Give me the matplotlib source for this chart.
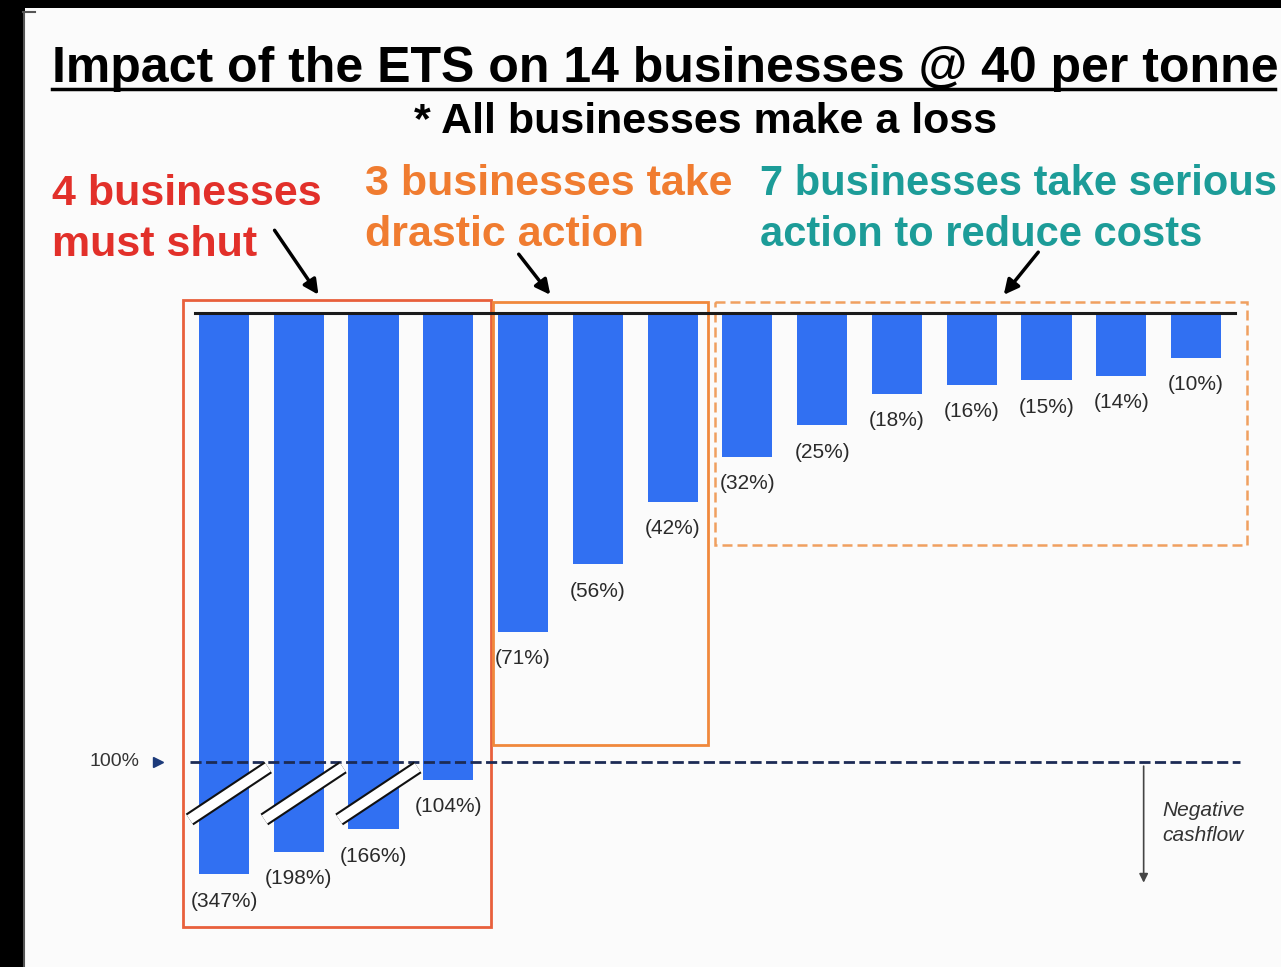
import numpy as np
import matplotlib
matplotlib.use('Agg')
import matplotlib.pyplot as plt
from matplotlib.patches import Rectangle
from matplotlib.lines import Line2D

# data: loss as % of cashflow for each business
losses = [347, 198, 166, 104, 71, 56, 42, 32, 25, 18, 16, 15, 14, 10]
# depth the bar is actually drawn to (first three are cut with a break mark)
drawn = [125, 120, 115, 104, 71, 56, 42, 32, 25, 18, 16, 15, 14, 10]
labels = ['(%d%%)' % v for v in losses]

W, H = 1281, 967
fig = plt.figure(figsize=(W / 100, H / 100), dpi=100, facecolor='black')

def fx(px):
    return px / W

def fy(py):
    return 1 - py / H

# white page with thin frame line on the left
fig.patches.append(Rectangle((fx(25), 0), 1, fy(8), transform=fig.transFigure,
                             facecolor='#fbfbfb', edgecolor='none', zorder=-5))
fig.lines.append(Line2D([fx(23.5), fx(23.5)], [0, fy(12)], transform=fig.transFigure,
                        color='#555555', lw=1.5, zorder=-4))
fig.lines.append(Line2D([fx(23), fx(35)], [fy(12), fy(12)], transform=fig.transFigure,
                        color='#555555', lw=1.5, zorder=-4))

# axes covers the whole figure; bar i sits at x=i, depth grows downward
ax = fig.add_axes([0, 0, 1, 1])
ax.patch.set_alpha(0)
ax.set_xlim(-2.996, 14.137)
ax.set_ylim(145.66, -69.71)
ax.axis('off')

x = np.arange(len(losses))
ax.bar(x, drawn, width=0.67, color='#3170f2', zorder=2)

# baseline and 100% line
ax.plot([-0.39, 13.52], [0, 0], color='#1a1a1a', lw=2.2, zorder=3)
ax.plot([-0.45, 13.59], [100, 100], color='#1c2b55', lw=2, ls=(0, (4, 1.6)), zorder=4)
ax.text(-1.13, 100, '100%', ha='right', va='center', fontsize=14,
        family='Liberation Sans', color='#333333')
ax.plot([-0.88], [100], marker='>', color='#1c3a7a', ms=7, zorder=4)

# break marks on the truncated bars
for i in range(len(losses)):
    if drawn[i] < losses[i]:
        ax.plot([i - 0.46, i + 0.59], [112.8, 101.2], color='#111111',
                lw=10, solid_capstyle='butt', zorder=5)
        ax.plot([i - 0.46, i + 0.59], [112.8, 101.2], color='white',
                lw=7, solid_capstyle='butt', zorder=6)

# value labels
for i in range(len(losses)):
    ax.text(x[i], drawn[i] + 6, labels[i], ha='center', va='center', fontsize=15,
            family='Liberation Sans', color='#2a2a2a', zorder=6)

# group boxes
ax.add_patch(Rectangle((-0.548, -2.9), 4.12, 139.6, fill=False, edgecolor='#e8603c', lw=2, zorder=1))
ax.add_patch(Rectangle((3.598, -2.45), 2.875, 98.65, fill=False, edgecolor='#f0883c', lw=2, zorder=1))
ax.add_patch(Rectangle((6.567, -2.45), 7.113, 54.15, fill=False, edgecolor='#f0a060', lw=1.8,
                       ls=(0, (4, 2)), zorder=1))

# negative cashflow arrow
ax.annotate('', xy=(12.3, 127.5), xytext=(12.3, 100.3),
            arrowprops=dict(arrowstyle='-|>', color='#444444', lw=1.2, mutation_scale=13))
ax.text(12.55, 113.6, 'Negative\ncashflow', ha='left', va='center', fontsize=15, style='italic',
        family='Liberation Sans', color='#333333', linespacing=1.4)

# title block
fig.text(fx(52), fy(82), 'Impact of the ETS on 14 businesses @ 40 per tonne', fontsize=36,
         fontweight='bold', family='Liberation Sans', color='black', va='baseline')
fig.lines.append(Line2D([fx(52), fx(1275)], [fy(89), fy(89)], transform=fig.transFigure,
                        color='black', lw=2.5))
fig.text(fx(706), fy(133), '* All businesses make a loss', fontsize=31, fontweight='bold',
         family='Liberation Sans', color='black', ha='center', va='baseline')

heads = [('4 businesses', 'must shut', '#e2302a', 52, 205, 31),
         ('3 businesses take', 'drastic action', '#f07c30', 365, 195, 31),
         ('7 businesses take serious', 'action to reduce costs', '#1c9c98', 760, 195, 30)]
for l1, l2, col, px, py, fs in heads:
    fig.text(fx(px), fy(py), l1, fontsize=fs, fontweight='bold', family='Liberation Sans',
             color=col, va='baseline')
    fig.text(fx(px), fy(py + 51), l2, fontsize=fs, fontweight='bold', family='Liberation Sans',
             color=col, va='baseline')

# pointer arrows from the headings to the boxes
for (x0, y0), (x1, y1) in [((273, 228), (320, 297)), ((517, 252), (552, 297)),
                           ((1040, 250), (1002, 297))]:
    ax.annotate('', xy=(fx(x1), fy(y1)), xytext=(fx(x0), fy(y0)),
                xycoords='figure fraction', textcoords='figure fraction',
                arrowprops=dict(arrowstyle='-|>', color='black', lw=2.5, mutation_scale=22))

fig.savefig('out.png', dpi=100, facecolor='black')
